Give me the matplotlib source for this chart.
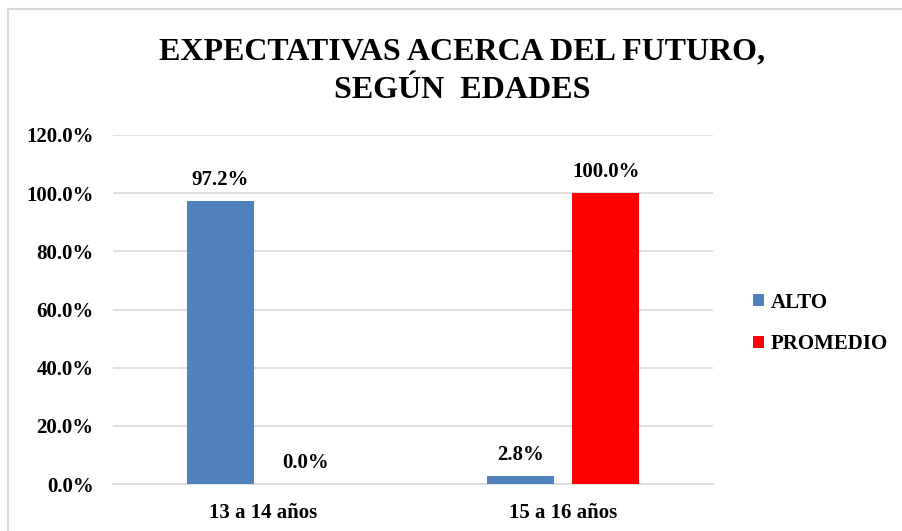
import matplotlib
matplotlib.use("Agg")
import matplotlib.pyplot as plt
from matplotlib.patches import Rectangle
import numpy as np

categories = ["13 a 14 años", "15 a 16 años"]
series_names = ["ALTO", "PROMEDIO"]
alto = [97.2, 2.8]
promedio = [0.0, 100.0]
yticks = [0, 20, 40, 60, 80, 100, 120]

COLORS = ["#4f81bd", "#ff0000"]
FONT = "Liberation Serif"

plt.rcParams["font.family"] = [FONT, "DejaVu Serif"]
plt.rcParams["font.weight"] = "bold"

fig = plt.figure(figsize=(9.02, 5.31), dpi=100)
ax = fig.add_axes([113 / 902, 1 - 484 / 531, 600 / 902, 349 / 531])

x = np.arange(len(categories))
w = 0.223
off = 0.143
for vals, name, col, dx in zip([alto, promedio], series_names, COLORS, [-off, off]):
    bars = ax.bar(x + dx, vals, w, color=col, label=name, zorder=3)
    for b, v in zip(bars, vals):
        ax.annotate(f"{v:.1f}%", (b.get_x() + b.get_width() / 2, v),
                    xytext=(0, 8), textcoords="offset points", ha="center", va="bottom",
                    fontsize=15, fontweight="bold")

ax.set_xlim(-0.5, 1.5)
ax.set_ylim(0, 120)
ax.set_yticks(yticks)
ax.set_yticklabels([f"{t:.1f}%" for t in yticks], fontsize=15, fontweight="bold")
ax.set_xticks(x)
ax.set_xticklabels(categories, fontsize=15, fontweight="bold")
ax.tick_params(axis="both", length=0)
ax.tick_params(axis="y", pad=14)
ax.tick_params(axis="x", pad=14)
ax.grid(axis="y", color="#d9d9d9", linewidth=1.2, zorder=0)
for s in ["top", "right", "left"]:
    ax.spines[s].set_visible(False)
ax.spines["bottom"].set_color("#d9d9d9")
ax.spines["bottom"].set_linewidth(1.2)

ax.legend(loc="center left", bbox_to_anchor=(1.035, 0.46), frameon=False,
          prop={"size": 15, "weight": "bold"}, handlelength=0.55, handleheight=0.55,
          handletextpad=0.3, labelspacing=1.05)

fig.text(462 / 902, 1 - 71 / 531, "EXPECTATIVAS ACERCA DEL FUTURO,\nSEGÚN  EDADES",
         ha="center", va="center", fontsize=23, fontweight="bold", linespacing=1.45)

fig.patches.append(Rectangle((8 / 902, -0.1), 1.2, 1 - 9 / 531 + 0.1,
                             transform=fig.transFigure, fill=False,
                             edgecolor="#d9d9d9", linewidth=1.5))

fig.savefig("out.png", dpi=100)
